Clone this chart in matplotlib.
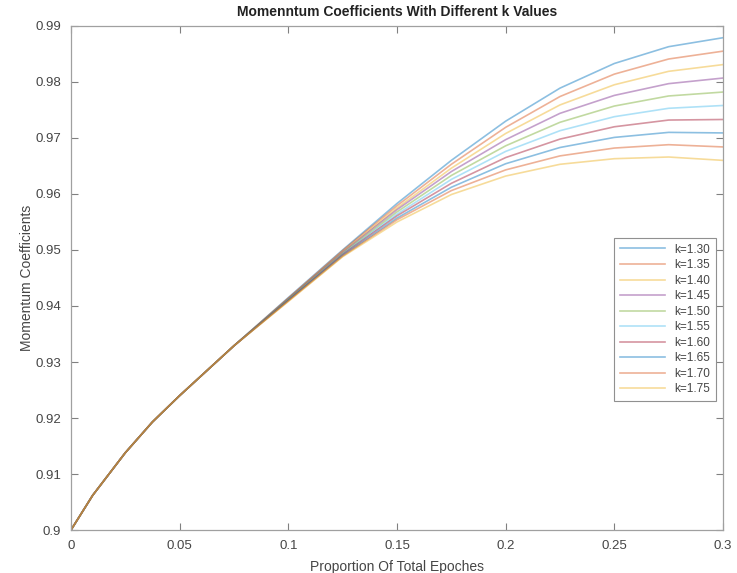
import matplotlib
matplotlib.use('Agg')
from matplotlib import pyplot as plt

plt.rcParams['font.family'] = ['Liberation Sans', 'DejaVu Sans']

# proportion of total epochs where values were read
xs = [0, 0.01, 0.025, 0.0375, 0.05, 0.075, 0.1, 0.125, 0.15, 0.175, 0.2, 0.225, 0.25, 0.275, 0.3]

k_values = [1.30, 1.35, 1.40, 1.45, 1.50, 1.55, 1.60, 1.65, 1.70, 1.75]

m_130 = [0.9, 0.9062, 0.9138, 0.9193, 0.924, 0.9329, 0.9415, 0.9500, 0.9583, 0.9660, 0.9730, 0.9789, 0.9833, 0.9863, 0.9879]
m_135 = [0.9, 0.9062, 0.9138, 0.9193, 0.924, 0.9329, 0.9414, 0.9499, 0.9579, 0.9653, 0.9719, 0.9774, 0.9814, 0.9841, 0.9855]
m_140 = [0.9, 0.9062, 0.9138, 0.9193, 0.924, 0.9329, 0.9413, 0.9497, 0.9575, 0.9646, 0.9708, 0.9759, 0.9795, 0.9819, 0.9831]
m_145 = [0.9, 0.9062, 0.9138, 0.9193, 0.924, 0.9329, 0.9413, 0.9496, 0.9572, 0.9640, 0.9697, 0.9744, 0.9776, 0.9797, 0.9807]
m_150 = [0.9, 0.9062, 0.9138, 0.9193, 0.924, 0.9329, 0.9412, 0.9494, 0.9568, 0.9633, 0.9686, 0.9728, 0.9757, 0.9775, 0.9782]
m_155 = [0.9, 0.9062, 0.9138, 0.9193, 0.924, 0.9329, 0.9411, 0.9493, 0.9564, 0.9626, 0.9676, 0.9713, 0.9738, 0.9753, 0.9758]
m_160 = [0.9, 0.9062, 0.9138, 0.9193, 0.924, 0.9329, 0.9410, 0.9492, 0.9561, 0.9619, 0.9665, 0.9698, 0.9720, 0.9732, 0.9733]
m_165 = [0.9, 0.9062, 0.9138, 0.9193, 0.924, 0.9329, 0.9410, 0.9490, 0.9557, 0.9612, 0.9654, 0.9683, 0.9701, 0.9710, 0.9709]
m_170 = [0.9, 0.9062, 0.9138, 0.9193, 0.924, 0.9329, 0.9409, 0.9489, 0.9554, 0.9606, 0.9643, 0.9668, 0.9682, 0.9688, 0.9684]
m_175 = [0.9, 0.9062, 0.9138, 0.9193, 0.924, 0.9329, 0.9408, 0.9488, 0.9550, 0.9599, 0.9632, 0.9653, 0.9663, 0.9666, 0.9660]

curves = [m_130, m_135, m_140, m_145, m_150, m_155, m_160, m_165, m_170, m_175]

# matlab default line order, it wraps after 7
colors = ['#0072BD', '#D95319', '#EDB120', '#7E2F8E', '#77AC30',
          '#4DBEEE', '#A2142F', '#0072BD', '#D95319', '#EDB120']

fig = plt.figure(figsize=(7.37, 5.73), dpi=100)
ax = fig.add_axes([0.0963, 0.075, 0.8847, 0.8797])

for k, ys, c in zip(k_values, curves, colors):
    ax.plot(xs, ys, color=c, alpha=0.45, linewidth=1.2, label='k=%.2f' % k)

ax.set_xlim(0, 0.3)
ax.set_ylim(0.9, 0.99)
ax.set_xticks([0, 0.05, 0.1, 0.15, 0.2, 0.25, 0.3])
ax.set_xticklabels(['0', '0.05', '0.1', '0.15', '0.2', '0.25', '0.3'])
ax.set_yticks([0.9, 0.91, 0.92, 0.93, 0.94, 0.95, 0.96, 0.97, 0.98, 0.99])
ax.set_yticklabels(['0.9', '0.91', '0.92', '0.93', '0.94', '0.95', '0.96', '0.97', '0.98', '0.99'])

gray = '#454545'
for s in ax.spines.values():
    s.set_color('#a0a0a0')
    s.set_linewidth(0.9)
ax.tick_params(direction='in', top=True, right=True, length=5, width=0.8,
               color='#808080', labelcolor=gray, labelsize=9.5)
ax.tick_params(axis='x', pad=7)
ax.tick_params(axis='y', pad=7)

ax.set_title('Momenntum Coefficients With Different k Values', fontsize=10,
             fontweight='bold', color='#222222', pad=7)
ax.set_xlabel('Proportion Of Total Epoches', fontsize=10, color=gray, labelpad=6)
ax.set_ylabel('Momentum Coefficients', fontsize=10, color=gray, labelpad=1)

leg = ax.legend(loc='upper right', bbox_to_anchor=(0.99, 0.58), fontsize=8.5,
                handlelength=3.8, labelspacing=0.3, borderpad=0.5,
                borderaxespad=0, fancybox=False, framealpha=1, edgecolor='#909090')
leg.get_frame().set_linewidth(0.8)
for t in leg.get_texts():
    t.set_color(gray)

fig.savefig('out.png', dpi=100)
